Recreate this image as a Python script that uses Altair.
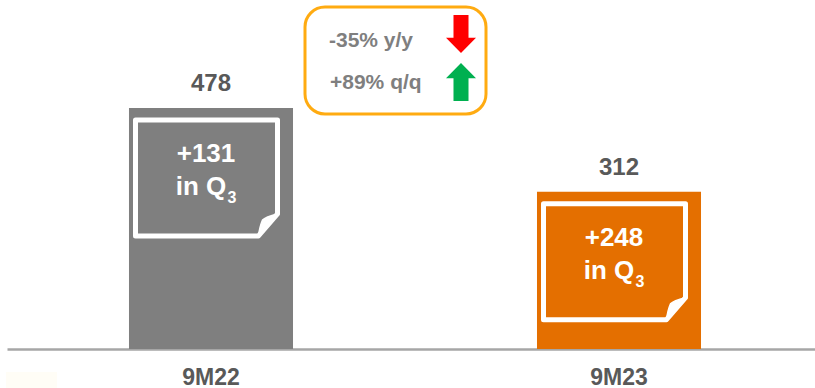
import altair as alt
import pandas as pd

periods = ["9M22", "9M23"]
totals = [478, 312]
q3_additions = ["+131", "+248"]
bar_colors = ["#7F7F7F", "#E46F00"]
changes = ["-35% y/y", "+89% q/q"]

FONT = "Liberation Sans"

# Sticky note outline and its folded corner, in symbol units
NOTE_PATH = "M-1,-.817 L1,-.817 L1,.507 L.732,.817 L-1,.817 Z"
FOLD_PATH = ("M1,.507 Q.83,.55 .789,.592 Q.75,.68 .732,.817 Z "
             "M.83,.63 L.86,.68 L.8,.72 Z")
ARROW_DOWN = "M-.395,-1 L.395,-1 L.395,.2 L.79,.2 L0,1 L-.79,.2 L-.395,.2 Z"
ARROW_UP = "M-.395,1 L.395,1 L.395,-.2 L.79,-.2 L0,-1 L-.79,-.2 L-.395,-.2 Z"

bars_df = pd.DataFrame({"period": periods, "total": totals, "added": q3_additions})

x = alt.X(
    "period:N",
    title=None,
    sort=periods,
    scale=alt.Scale(domain=periods, range=[7, 823], paddingInner=0.598, paddingOuter=0.299),
    axis=alt.Axis(
        labelAngle=0,
        labelFont=FONT,
        labelFontSize=23,
        labelFontWeight="bold",
        labelColor="#595959",
        labelPadding=17,
        ticks=False,
        domainColor="#A6A6A6",
        domainWidth=2.5,
        grid=False,
    ),
)
y = alt.Y("total:Q", scale=alt.Scale(domain=[0, 692], nice=False), axis=None)
base = alt.Chart(bars_df).encode(x=x, y=y)

bars = base.mark_bar().encode(
    y2=alt.datum(0),
    color=alt.Color("period:N", scale=alt.Scale(domain=periods, range=bar_colors), legend=None),
)
totals_text = base.mark_text(
    font=FONT, fontSize=24, fontWeight="bold", color="#595959", dy=-24
).encode(text=alt.Text("total:Q"))

note = base.mark_point(
    shape=NOTE_PATH, size=142 ** 2, filled=False, stroke="white", strokeWidth=5,
    strokeJoin="round", opacity=1, xOffset=-4.5, yOffset=70,
)
fold = base.mark_point(
    shape=FOLD_PATH, size=142 ** 2, filled=True, fill="white", stroke="white", strokeWidth=1.5,
    strokeJoin="round", opacity=1, xOffset=-4.5, yOffset=70,
)
added_text = base.mark_text(
    font=FONT, fontSize=26, fontWeight="bold", color="white", dx=-5, dy=46
).encode(text="added:N")
in_q_text = base.transform_calculate(line="'in Q'").mark_text(
    font=FONT, fontSize=26, fontWeight="bold", color="white", dx=-10, dy=79
).encode(text="line:N")
sub_text = base.transform_calculate(sub="'3'").mark_text(
    font=FONT, fontSize=16, fontWeight="bold", color="white", dx=21, dy=90
).encode(text="sub:N")

# Year-on-year and quarter-on-quarter callout
blank = alt.Chart(pd.DataFrame({"k": [0]}))
frame = blank.mark_rect(
    fill="white", stroke="#FFAB11", strokeWidth=3, cornerRadius=20
).encode(x=alt.value(305), x2=alt.value(486), y=alt.value(7), y2=alt.value(114))
yoy_text = blank.mark_text(
    text=changes[0], font=FONT, fontSize=21, fontWeight="bold", color="#7F7F7F", align="left"
).encode(x=alt.value(329), y=alt.value(41))
qoq_text = blank.mark_text(
    text=changes[1], font=FONT, fontSize=21, fontWeight="bold", color="#7F7F7F", align="left"
).encode(x=alt.value(330), y=alt.value(83))
down = blank.mark_point(
    shape=ARROW_DOWN, size=38 ** 2, filled=True, fill="#FF0000", opacity=1, strokeWidth=0
).encode(x=alt.value(461), y=alt.value(34))
up = blank.mark_point(
    shape=ARROW_UP, size=38 ** 2, filled=True, fill="#00B050", opacity=1, strokeWidth=0
).encode(x=alt.value(461), y=alt.value(82))

# Pale remnant of the logo at the lower-left edge
logo_wash = blank.mark_rect(fill="#FFFDF6").encode(
    x=alt.value(6), x2=alt.value(57), y=alt.value(372), y2=alt.value(388)
)

chart = alt.layer(
    logo_wash, bars, totals_text, note, fold, added_text, in_q_text, sub_text,
    frame, yoy_text, qoq_text, down, up,
).properties(
    width=815,
    height=349,
    padding={"left": 0, "right": 0, "top": 0, "bottom": 39},
    autosize=alt.AutoSizeParams(type="none"),
).configure_view(stroke=None)

chart.save("out.html", embed_options={"renderer": "svg", "actions": False})
